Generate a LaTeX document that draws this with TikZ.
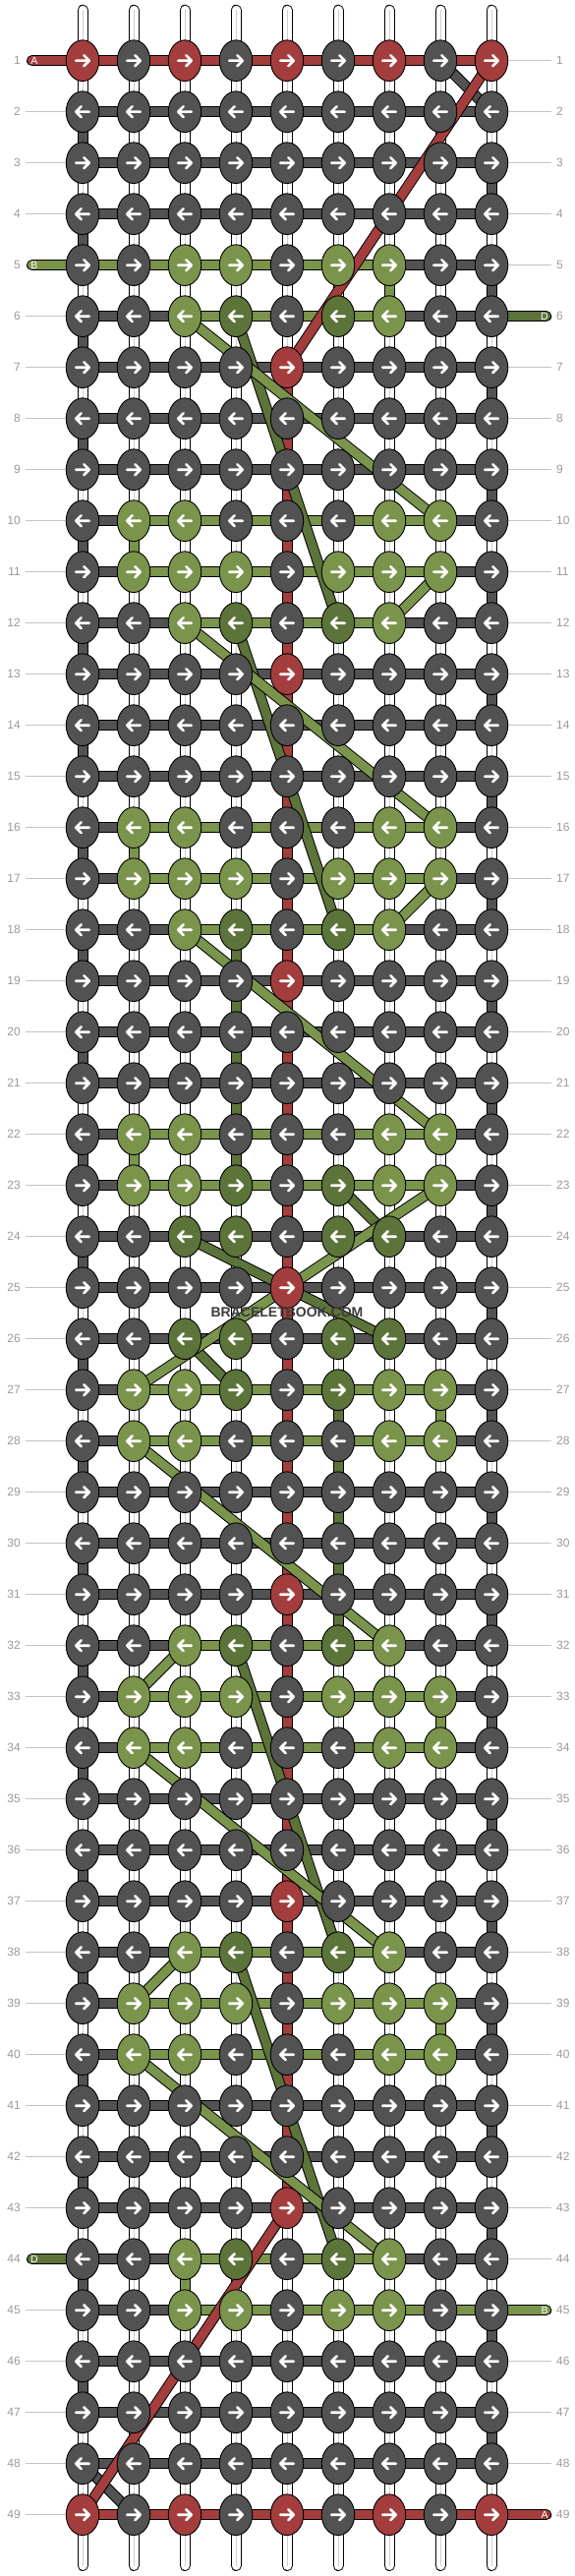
\documentclass[tikz,border=0pt]{standalone}
\usepackage{fontspec}
\setmainfont{Liberation Sans}
\usetikzlibrary{shapes.geometric}
\definecolor{cK}{HTML}{525252}
\definecolor{cR}{HTML}{A43D3D}
\definecolor{cG}{HTML}{7A944C}
\definecolor{cD}{HTML}{5C733A}
\definecolor{cLab}{HTML}{9A9A9A}
\definecolor{cLine}{HTML}{C4C4C4}
\definecolor{cMid}{HTML}{D0D0D0}
\definecolor{cWm}{HTML}{3C3C3C}
\pgfdeclarelayer{bg}
\pgfdeclarelayer{mid}
\pgfsetlayers{bg,mid,main}
\tikzset{
  knot/.style={ellipse, draw=black, line width=0.9pt, minimum width=33.5pt, minimum height=41.7pt, inner sep=0pt},
  strand/.style={draw=black, line width=1pt, double=#1, double distance=9pt},
  wstring/.style={draw=black, line width=1pt, double=white, double distance=9pt, line cap=round},
  midline/.style={draw=cMid, line width=0.7pt},
  arrowline/.style={draw=white, line width=2.6pt, line cap=round, line join=round},
  rowlab/.style={text=cLab, font=\fontsize{12}{12}\selectfont, inner sep=0pt},
  labline/.style={draw=cLine, line width=1pt},
  endlab/.style={text=white, font=\fontsize{10.5}{10.5}\selectfont, inner sep=0pt},
  wmark/.style={text=cWm, font=\fontsize{14}{14}\selectfont\bfseries, inner sep=0pt}
}
\begin{document}
\begin{tikzpicture}[x=1pt,y=-1pt]
\useasboundingbox (0,0) rectangle (584,2620);
% ---------- knots ----------
\foreach \cl/\rows in {{R,K,R,K,R,K,R,K,R}/{1,49},{K,K,K,K,K,K,K,K,K}/{2,3,4,8,9,14,15,20,21,29,30,35,36,41,42,46,47,48},{K,K,G,G,K,G,G,K,K}/{5,45},{K,K,G,D,K,D,G,K,K}/{6,12,18,32,38,44},{K,K,K,K,R,K,K,K,K}/{7,13,19,25,31,37,43},{K,G,G,K,K,K,G,G,K}/{10,16,22,28,34,40},{K,G,G,G,K,G,G,G,K}/{11,17,33,39},{K,G,G,D,K,D,G,G,K}/{23,27},{K,K,D,D,K,D,D,K,K}/{24,26}}{
  \foreach \r in \rows {
    \foreach \c [count=\i from 0] in \cl {
      \node[knot, fill=c\c] (k\r-\i) at ({84+52*\i},{61.7+52*(\r-1)}) {};
      \ifodd\r
        \draw[arrowline] (k\r-\i.center) ++(-6.8,0) -- ++(13.6,0) ++(-5.5,-5.5) -- ++(5.5,5.5) -- ++(-5.5,5.5);
      \else
        \draw[arrowline] (k\r-\i.center) ++(6.8,0) -- ++(-13.6,0) ++(5.5,-5.5) -- ++(-5.5,5.5) -- ++(5.5,5.5);
      \fi
    }
  }
}
% ---------- background strings ----------
\begin{pgfonlayer}{bg}
\fill[white] (0,0) rectangle (584,2620);
\foreach \r in {1,...,49} {
  \pgfmathsetmacro\yy{61.7+52*(\r-1)}
  \node[rowlab, anchor=east] (ll\r) at (21,\yy) {\r};
  \node[rowlab, anchor=west] (rl\r) at (566,\yy) {\r};
  \coordinate (lp\r) at (26,\yy);
  \coordinate (rp\r) at (561,\yy);
  \pgfmathtruncatemacro\hasL{(\r==1)||(\r==5)||(\r==44)}
  \pgfmathtruncatemacro\hasR{(\r==6)||(\r==45)||(\r==49)}
  \ifnum\hasL=0 \draw[labline] (lp\r) -- (k\r-0.center);\fi
  \ifnum\hasR=0 \draw[labline] (k\r-8.center) -- (rp\r);\fi
}
\foreach \i in {0,...,8} {
  \coordinate (top\i) at ({84+52*\i},10.2);
  \coordinate (bot\i) at ({84+52*\i},2609.5);
  \draw[wstring] (top\i) -- (bot\i);
  \draw[midline] (top\i) -- (bot\i);
}
% vertical coloured segments
\foreach \r in {2,4,...,46} {\pgfmathtruncatemacro\rn{\r+1}\draw[strand=cK] (k\r-0.center) -- (k\rn-0.center);}
\foreach \r in {3,5,...,47} {\pgfmathtruncatemacro\rn{\r+1}\draw[strand=cK] (k\r-8.center) -- (k\rn-8.center);}
\foreach \r in {7,...,42} {\pgfmathtruncatemacro\rn{\r+1}\draw[strand=cR] (k\r-4.center) -- (k\rn-4.center);}
\foreach \r/\c in {5/6,10/1,16/1,22/1,27/7,33/7,39/7,44/2} {\pgfmathtruncatemacro\rn{\r+1}\draw[strand=cG] (k\r-\c.center) -- (k\rn-\c.center);}
\foreach \r/\c in {18/3,19/3,20/3,21/3,22/3,27/5,28/5,29/5,30/5,31/5} {\pgfmathtruncatemacro\rn{\r+1}\draw[strand=cD] (k\r-\c.center) -- (k\rn-\c.center);}
% horizontal segments
\foreach \r in {1,...,49} {
  \foreach \i in {0,...,7} {
    \pgfmathtruncatemacro\j{\i+1}
    \draw[strand=cK] (k\r-\i.center) -- (k\r-\j.center);
  }
}
\foreach \r/\a/\b/\cc in {1/0/7/R,49/0/7/R,5/0/5/G,45/2/7/G,6/2/5/G,12/2/5/G,18/2/5/G,32/2/5/G,38/2/5/G,44/2/5/G,10/1/6/G,11/1/6/G,16/1/6/G,17/1/6/G,22/1/6/G,23/1/6/G,27/1/6/G,28/1/6/G,33/1/6/G,34/1/6/G,39/1/6/G,40/1/6/G} {
  \foreach \i in {\a,...,\b} {
    \pgfmathtruncatemacro\j{\i+1}
    \draw[strand=c\cc] (k\r-\i.center) -- (k\r-\j.center);
  }
}
% lead-in / lead-out strings
\coordinate (inA) at (32.5,61.7);
\coordinate (inB) at (32.5,269.7);
\coordinate (inD) at (555.8,321.7);
\coordinate (outD) at (32.5,2297.7);
\coordinate (outB) at (555.8,2349.7);
\coordinate (outA) at (555.8,2557.7);
\draw[strand=cR, line cap=round] (inA) -- (k1-0.center);
\draw[strand=cG, line cap=round] (inB) -- (k5-0.center);
\draw[strand=cD, line cap=round] (k6-8.center) -- (inD);
\draw[strand=cD, line cap=round] (outD) -- (k44-0.center);
\draw[strand=cG, line cap=round] (k45-8.center) -- (outB);
\draw[strand=cR, line cap=round] (k49-8.center) -- (outA);
\node[endlab] (lA1) at (35,61.7) {A};
\node[endlab] (lB1) at (35,269.7) {B};
\node[endlab] (lD1) at (554,321.7) {D};
\node[endlab] (lD2) at (35,2297.7) {D};
\node[endlab] (lB2) at (554,2349.7) {B};
\node[endlab] (lA2) at (554,2557.7) {A};
\end{pgfonlayer}
% ---------- diagonal strings ----------
\begin{pgfonlayer}{mid}
\foreach \ra/\ca/\rb/\cb/\cc in {1/7/2/8/K,49/1/48/0/K,6/3/12/5/D,12/3/18/5/D,23/5/24/6/D,24/2/26/6/D,26/2/27/3/D,32/3/38/5/D,38/3/44/5/D,6/2/10/7/G,11/7/12/6/G,12/2/16/7/G,17/7/18/6/G,18/2/22/7/G,23/7/27/1/G,28/1/32/6/G,32/2/33/1/G,34/1/38/6/G,38/2/39/1/G,40/1/44/6/G,1/8/7/4/R,43/4/49/0/R} {
  \draw[strand=c\cc] (k\ra-\ca.center) -- (k\rb-\cb.center);
}
\end{pgfonlayer}
% ---------- watermark ----------
\node[wmark] (wm) at (292,1335) {BRACELETBOOK.COM};
\end{tikzpicture}
\end{document}
